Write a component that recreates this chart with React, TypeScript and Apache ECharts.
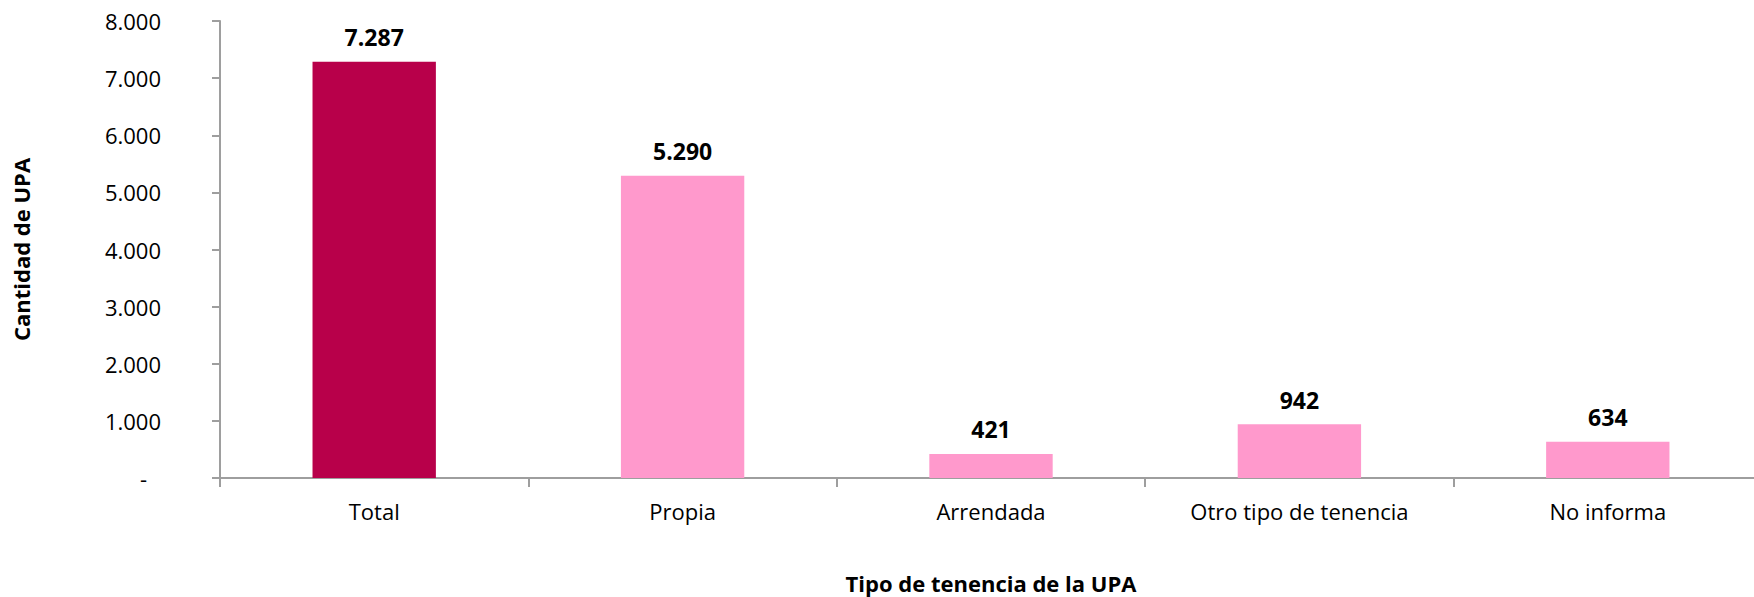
import React, { useEffect, useRef } from "react";
import * as echarts from "echarts";

const categories = ["Total", "Propia", "Arrendada", "Otro tipo de tenencia", "No informa"];
const values = [7287, 5290, 421, 942, 634];
const barColors = ["#B8004A", "#FF99CC", "#FF99CC", "#FF99CC", "#FF99CC"];
const yTicks = { min: 0, max: 8000, interval: 1000 };
const xTitle = "Tipo de tenencia de la UPA";
const yTitle = "Cantidad de UPA";

const fmt = (v: number) => {
  if (v === 0) return "{d|-}";
  return String(Math.round(v)).replace(/\B(?=(\d{3})+(?!\d))/g, ".");
};

export default function App() {
  const ref = useRef<HTMLDivElement>(null);
  useEffect(() => {
    document.body.style.margin = "0";
    const chart = echarts.init(ref.current!, undefined, { renderer: "svg" });
    const font = "'Open Sans', sans-serif";
    chart.setOption({
      animation: false,
      backgroundColor: "#ffffff",
      grid: {
        left: 220,
        top: 21,
        height: 457,
        width: 1542,
        containLabel: false,
        outerBoundsMode: "none",
      },
      xAxis: {
        type: "category",
        data: categories,
        name: xTitle,
        nameLocation: "middle",
        nameGap: 94,
        nameTextStyle: { fontFamily: font, fontSize: 22, fontWeight: "bold", color: "#000" },
        axisLine: { lineStyle: { color: "#9E9E9E", width: 2 } },
        axisTick: { show: true, length: 9, lineStyle: { color: "#9E9E9E", width: 2 } },
        axisLabel: { fontFamily: font, fontSize: 22, color: "#000", margin: 22 },
      },
      yAxis: {
        type: "value",
        min: yTicks.min,
        max: yTicks.max,
        interval: yTicks.interval,
        name: yTitle,
        nameLocation: "middle",
        nameGap: 188,
        nameTextStyle: { fontFamily: font, fontSize: 22, fontWeight: "bold", color: "#000" },
        splitLine: { show: false },
        axisLine: { show: true, lineStyle: { color: "#9E9E9E", width: 2 } },
        axisTick: { show: true, length: 8, lineStyle: { color: "#9E9E9E", width: 2 } },
        axisLabel: {
          fontFamily: font,
          fontSize: 22,
          color: "#000",
          margin: 59,
          formatter: fmt,
          rich: { d: { fontFamily: font, fontSize: 22, color: "#000", padding: [0, 14, 0, 0] } },
        },
      },
      series: [
        {
          type: "bar",
          barWidth: "40%",
          data: values.map((v, i) => ({ value: v, itemStyle: { color: barColors[i] } })),
          label: {
            show: true,
            position: "top",
            distance: 13,
            fontFamily: font,
            fontSize: 23,
            fontWeight: "bold",
            color: "#000",
            formatter: (p: any) => fmt(p.value),
          },
        },
      ],
    });
    return () => chart.dispose();
  }, []);
  return <div ref={ref} style={{ width: 1754, height: 597 }} />;
}
